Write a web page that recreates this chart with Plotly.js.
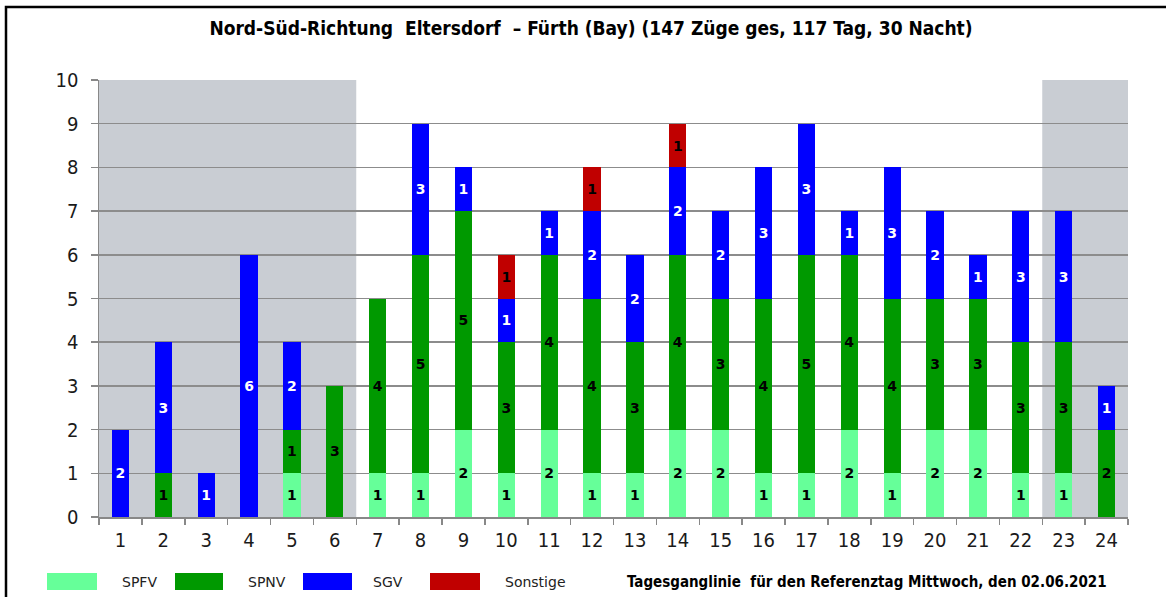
<!DOCTYPE html>
<html><head><meta charset="utf-8">
<script src="https://cdn.plot.ly/plotly-3.0.1.min.js"></script>
<style>html,body{margin:0;padding:0;background:#fff}#chart{width:1166px;height:597px}</style>
</head><body><div id="chart"></div>
<script>
const hours = ['1','2','3','4','5','6','7','8','9','10','11','12','13','14','15','16','17','18','19','20','21','22','23','24'];
const spfv     = [0,0,0,0,1,0,1,1,2,1,2,1,1,2,2,1,1,2,1,2,2,1,1,0];
const spnv     = [0,1,0,0,1,3,4,5,5,3,4,4,3,4,3,4,5,4,4,3,3,3,3,2];
const sgv      = [2,3,1,6,2,0,0,3,1,1,1,2,2,2,2,3,3,1,3,2,1,3,3,1];
const sonstige = [0,0,0,0,0,0,0,0,0,1,0,1,0,1,0,0,0,0,0,0,0,0,0,0];
const seriesNames = ['SPFV','SPNV','SGV','Sonstige'];
const seriesColors = ['#66ff99','#009900','#0000ff','#c00000'];
const labelColors = ['#000000','#000000','#ffffff','#000000'];
const titleText = 'Nord-Süd-Richtung\u00a0 Eltersdorf\u00a0 – Fürth (Bay) (147 Züge ges, 117 Tag, 30 Nacht)';
const footText = 'Tagesganglinie\u00a0 für den Referenztag Mittwoch, den 02.06.2021';

const L=99, R=1128, T=80, B=517;
const px = x => (x-L)/(R-L);
const py = y => (B-y)/(B-T);

const data = [spfv, spnv, sgv, sonstige].map((vals, i) => ({
  type: 'bar', x: hours, y: vals, name: seriesNames[i],
  marker: {color: seriesColors[i], line: {width: 0}},
  width: 0.4,
  text: vals.map(v => v ? String(v) : ''),
  textposition: 'inside', insidetextanchor: 'middle', textangle: 0,
  textfont: {family: 'DejaVu Sans, sans-serif', size: 14, weight: 'bold', color: labelColors[i]},
  hoverinfo: 'skip', showlegend: false
}));

const shapes = [
  {type:'rect', xref:'x', yref:'y', x0:-0.5, x1:5.5, y0:0, y1:10, fillcolor:'#c9cdd3', line:{width:0}, layer:'below'},
  {type:'rect', xref:'x', yref:'y', x0:21.5, x1:23.5, y0:0, y1:10, fillcolor:'#c9cdd3', line:{width:0}, layer:'below'},
  {type:'rect', xref:'paper', yref:'paper', x0:px(6), x1:px(1200), y0:py(640), y1:py(7), fillcolor:'rgba(0,0,0,0)', line:{color:'#000', width:2.5}}
];
const annotations = [];
const legendSw = [[47,97],[175,223],[303,352],[430,480]];
const legendTx = [139,267,388,535];
seriesNames.forEach((n,i) => {
  shapes.push({type:'rect', xref:'paper', yref:'paper', x0:px(legendSw[i][0]), x1:px(legendSw[i][1]), y0:py(590), y1:py(573), fillcolor:seriesColors[i], line:{width:0}});
  annotations.push({xref:'paper', yref:'paper', x:px(legendTx[i]), y:py(582), text:n, showarrow:false, xanchor:'center', yanchor:'middle', font:{family:'DejaVu Sans, sans-serif', size:14, color:'#222'}});
});
annotations.push({xref:'paper', yref:'paper', x:px(867), y:py(582), text:footText, showarrow:false, xanchor:'center', yanchor:'middle', font:{family:'DejaVu Sans Condensed, DejaVu Sans, sans-serif', size:15, weight:'bold', color:'#000'}});

const tickFont = {family:'DejaVu Sans Condensed, DejaVu Sans, sans-serif', size:20, color:'#1a1a1a'};
const layout = {
  width:1166, height:597,
  margin:{l:L, r:1166-R, t:T, b:597-B, pad:0},
  paper_bgcolor:'#fff', plot_bgcolor:'#fff',
  barmode:'stack', bargap:0.6,
  title:{text:titleText, x:591/1166, xref:'container', xanchor:'center', y:1-28/597, yref:'container', yanchor:'middle',
    font:{family:'DejaVu Sans Condensed, DejaVu Sans, sans-serif', size:19, weight:'bold', color:'#000'}},
  xaxis:{type:'category', tickson:'boundaries', ticks:'outside', ticklen:6, tickcolor:'#888', tickwidth:1.5,
    showline:true, linecolor:'#888', linewidth:1.5, showgrid:false, ticklabelstandoff:4,
    tickfont:tickFont, fixedrange:true},
  yaxis:{range:[0,10], dtick:1, showgrid:true, gridcolor:'#8c8c8c', gridwidth:1.5, zeroline:false,
    showline:true, linecolor:'#888', linewidth:1.5, ticks:'outside', ticklen:7, tickcolor:'#888', tickwidth:1.5,
    ticklabelstandoff:8, tickfont:tickFont, fixedrange:true},
  shapes: shapes, annotations: annotations, showlegend:false
};
Plotly.newPlot('chart', data, layout, {displayModeBar:false, staticPlot:true});
</script></body></html>
